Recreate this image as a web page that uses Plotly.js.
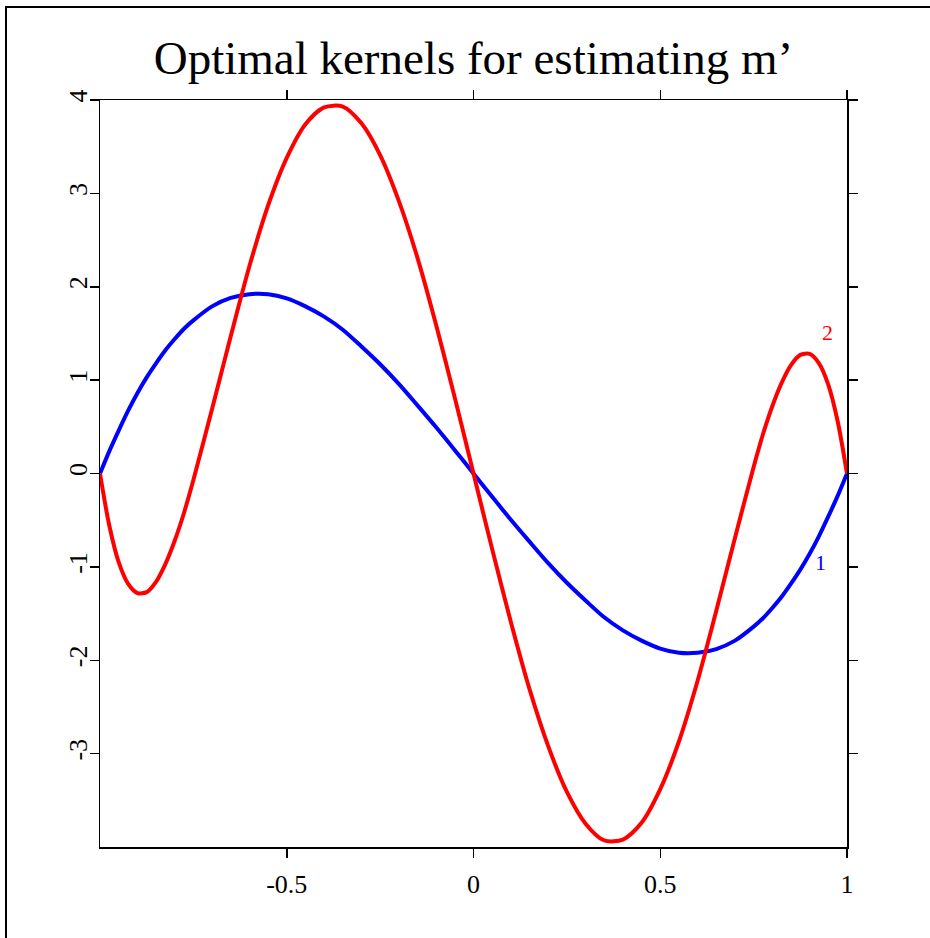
<!DOCTYPE html>
<html>
<head>
<meta charset="utf-8">
<script src="https://cdn.plot.ly/plotly-3.0.1.min.js"></script>
<style>
html,body{margin:0;padding:0;background:#fff;}
#chart{width:930px;height:938px;}
</style>
</head>
<body>
<div id="chart"></div>
<script>
// x grid (denser near the ends)
const xVals = [-1, -0.975, -0.95, -0.925, -0.9, -0.875, -0.85, -0.825, -0.8, -0.775, -0.75,
  -0.7, -0.65, -0.6, -0.55, -0.5,
  -0.45, -0.4, -0.35, -0.3, -0.25, -0.2, -0.15, -0.1, -0.05, 0,
  0.05, 0.1, 0.15, 0.2, 0.25, 0.3, 0.35, 0.4, 0.45, 0.5,
  0.55, 0.6, 0.65, 0.7,
  0.75, 0.775, 0.8, 0.825, 0.85, 0.875, 0.9, 0.925, 0.95, 0.975, 1];

// kernel 1 (blue)
const kernel1 = [0, 0.24, 0.46, 0.67, 0.86, 1.03, 1.18, 1.32, 1.44, 1.55, 1.64,
  1.79, 1.88, 1.92, 1.92, 1.875,
  1.79, 1.68, 1.54, 1.36, 1.17, 0.96, 0.73, 0.495, 0.25, 0,
  -0.25, -0.495, -0.73, -0.96, -1.17, -1.36, -1.54, -1.68, -1.79, -1.875,
  -1.92, -1.92, -1.88, -1.79,
  -1.64, -1.55, -1.44, -1.32, -1.18, -1.03, -0.86, -0.67, -0.46, -0.24, 0];

// kernel 2 (red)
const kernel2 = [0, -0.56, -0.95, -1.18, -1.28, -1.27, -1.16, -0.97, -0.72, -0.42, -0.07,
  0.69, 1.47, 2.22, 2.87, 3.38,
  3.74, 3.92, 3.93, 3.75, 3.41, 2.92, 2.31, 1.59, 0.81, 0,
  -0.81, -1.59, -2.31, -2.92, -3.41, -3.75, -3.93, -3.92, -3.74, -3.38,
  -2.87, -2.22, -1.47, -0.69,
  0.07, 0.42, 0.72, 0.97, 1.16, 1.27, 1.28, 1.18, 0.95, 0.56, 0];

const labels = ['1', '2'];
const labelX = [0.929, 0.949];
const labelY = [-0.95, 1.51];
const xTicks = [-0.5, 0, 0.5, 1];
const xTickText = ['-0.5', '0', '0.5', '1'];
const yTicks = [-3, -2, -1, 0, 1, 2, 3, 4];
const yTickText = ['-3', '-2', '-1', '0', '1', '2', '3', '4'];
const colors = ['#0000ff', '#ff0000'];

const serif = 'Liberation Serif, Times New Roman, serif';

const traces = [
  {x: xVals, y: kernel1, mode: 'lines', line: {color: colors[0], width: 4, shape: 'spline', smoothing: 0.8}, hoverinfo: 'skip'},
  {x: xVals, y: kernel2, mode: 'lines', line: {color: colors[1], width: 4, shape: 'spline', smoothing: 0.8}, hoverinfo: 'skip'}
];

const axisCommon = {
  showline: true, linecolor: '#000', linewidth: 1.5, mirror: 'ticks',
  ticks: 'outside', ticklen: 9, tickwidth: 1.5, tickcolor: '#000',
  showgrid: false, zeroline: false,
  tickfont: {family: serif, size: 26, color: '#000'}
};

const layout = {
  width: 930, height: 938,
  margin: {l: 100, r: 83, t: 100, b: 91},
  paper_bgcolor: '#fff', plot_bgcolor: '#fff',
  showlegend: false,
  title: {
    text: 'Optimal kernels for estimating m\u2019',
    font: {family: serif, size: 47, color: '#000'},
    x: 0.5, xref: 'paper', xanchor: 'center',
    y: 1 - 58 / 938, yref: 'container', yanchor: 'middle'
  },
  xaxis: Object.assign({}, axisCommon, {
    range: [-1, 1], tickmode: 'array', tickvals: xTicks, ticktext: xTickText,
    ticklabelstandoff: 4
  }),
  yaxis: Object.assign({}, axisCommon, {
    range: [-4, 4], tickmode: 'array', tickvals: yTicks, ticktext: yTickText,
    tickangle: -90, ticklabelstandoff: -8
  }),
  annotations: labels.map((t, i) => ({
    x: labelX[i], y: labelY[i], xref: 'x', yref: 'y', text: t, showarrow: false,
    font: {family: serif, size: 22, color: colors[i]}
  })),
  shapes: [{
    type: 'rect', xref: 'paper', yref: 'paper',
    x0: (6 - 100) / 747, x1: 2, y0: -1, y1: (847 - 7) / 747,
    line: {color: '#000', width: 2}, fillcolor: 'rgba(0,0,0,0)', layer: 'above'
  }]
};

Plotly.newPlot('chart', traces, layout, {staticPlot: true, displayModeBar: false});
</script>
</body>
</html>
